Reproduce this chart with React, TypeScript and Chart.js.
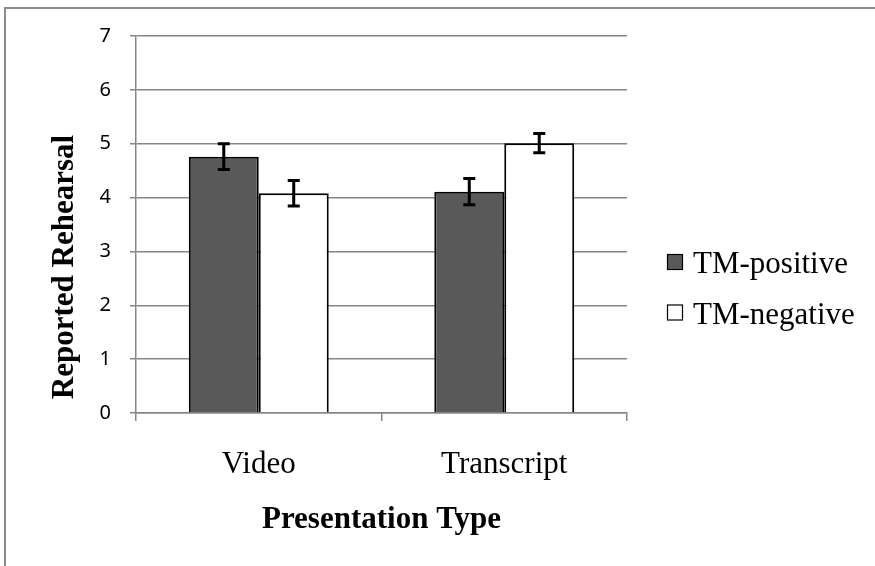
import React, { useEffect, useRef } from "react";
import { Chart, registerables } from "chart.js";

Chart.register(...registerables);

const categories = ["Video", "Transcript"];
const seriesNames = ["TM-positive", "TM-negative"];
const tmPositive = [4.76, 4.11];
const tmNegative = [4.08, 5.01];
const tmPositiveErr = [0.24, 0.245];
const tmNegativeErr = [0.235, 0.18];
const seriesColors = ["#595959", "#ffffff"];
const yTitle = "Reported Rehearsal";
const xTitle = "Presentation Type";

const errors = [tmPositiveErr, tmNegativeErr];
const values = [tmPositive, tmNegative];

const SERIF = "'Liberation Serif', 'Times New Roman', serif";

const decorPlugin = {
  id: "decor",
  beforeDraw(chart: any) {
    const ctx = chart.ctx;
    ctx.save();
    ctx.fillStyle = "#ffffff";
    ctx.fillRect(0, 0, chart.width, chart.height);
    ctx.strokeStyle = "#8c8c8c";
    ctx.lineWidth = 2;
    ctx.beginPath();
    ctx.moveTo(5, chart.height + 2);
    ctx.lineTo(5, 8);
    ctx.lineTo(chart.width + 2, 8);
    ctx.stroke();
    ctx.restore();
  },
  afterDatasetsDraw(chart: any) {
    const ctx = chart.ctx;
    const yScale = chart.scales.y;
    ctx.save();
    ctx.strokeStyle = "#000000";
    ctx.lineWidth = 3;
    chart.data.datasets.forEach((ds: any, i: number) => {
      const meta = chart.getDatasetMeta(i);
      meta.data.forEach((bar: any, j: number) => {
        const v = values[i][j];
        const e = errors[i][j];
        const yTop = yScale.getPixelForValue(v + e);
        const yBot = yScale.getPixelForValue(v - e);
        const x = bar.x;
        ctx.beginPath();
        ctx.moveTo(x, yTop);
        ctx.lineTo(x, yBot);
        ctx.moveTo(x - 6, yTop);
        ctx.lineTo(x + 6, yTop);
        ctx.moveTo(x - 6, yBot);
        ctx.lineTo(x + 6, yBot);
        ctx.stroke();
      });
    });
    ctx.restore();
  },
  afterDraw(chart: any) {
    const ctx = chart.ctx;
    const area = chart.chartArea;
    ctx.save();
    ctx.fillStyle = "#000000";
    // y title
    ctx.font = `bold 31px ${SERIF}`;
    ctx.textAlign = "center";
    ctx.textBaseline = "alphabetic";
    ctx.translate(73, 267);
    ctx.rotate(-Math.PI / 2);
    ctx.fillText(yTitle, 0, 0);
    ctx.setTransform(1, 0, 0, 1, 0, 0);
    // x title
    ctx.fillText(xTitle, (area.left + area.right) / 2, 528);
    // legend
    ctx.font = `31px ${SERIF}`;
    ctx.textAlign = "left";
    const baselines = [273, 323.5];
    seriesNames.forEach((name, i) => {
      const b = baselines[i];
      ctx.fillStyle = seriesColors[i];
      ctx.fillRect(667.5, b - 18.5, 15, 15);
      ctx.strokeStyle = "#000000";
      ctx.lineWidth = 1.2;
      ctx.strokeRect(667.5, b - 18.5, 15, 15);
      ctx.fillStyle = "#000000";
      ctx.fillText(name, 693, b);
    });
    ctx.restore();
  },
};

export default function App() {
  const ref = useRef<HTMLCanvasElement | null>(null);
  useEffect(() => {
    if (!ref.current) return;
    const chart = new Chart(ref.current, {
      type: "bar",
      data: {
        labels: categories,
        datasets: seriesNames.map((name, i) => ({
          label: name,
          data: values[i],
          backgroundColor: seriesColors[i],
          borderColor: "#000000",
          borderWidth: 2,
          categoryPercentage: 0.57,
          barPercentage: 1,
        })),
      },
      options: {
        responsive: false,
        animation: false,
        devicePixelRatio: 1,
        layout: { padding: { left: 0, right: 248, top: 36, bottom: 0 } },
        plugins: {
          legend: { display: false },
          tooltip: { enabled: false },
          title: { display: false },
        },
        scales: {
          x: {
            afterFit(scale: any) {
              scale.height = 153;
            },
            grid: {
              drawOnChartArea: false,
              drawTicks: true,
              tickLength: 8,
              color: "#868686",
              lineWidth: 1.5,
              offset: true,
            },
            border: { color: "#868686", width: 1.5 },
            ticks: {
              color: "#000000",
              font: { family: SERIF, size: 31 },
              padding: 25,
            },
          },
          y: {
            min: 0,
            max: 7,
            afterFit(scale: any) {
              scale.width = 136;
            },
            grid: {
              color: "#868686",
              lineWidth: 1.5,
              tickLength: 6,
            },
            border: { color: "#868686", width: 1.5 },
            ticks: {
              stepSize: 1,
              color: "#000000",
              font: { family: "'Noto Sans', sans-serif", size: 20 },
              padding: 19,
            },
          },
        },
      },
      plugins: [decorPlugin],
    });
    return () => chart.destroy();
  }, []);
  return (
    <div style={{ position: "fixed", left: 0, top: 0, width: 875, height: 566, background: "#fff" }}>
      <canvas ref={ref} width={875} height={566} style={{ width: 875, height: 566, display: "block" }} />
    </div>
  );
}
